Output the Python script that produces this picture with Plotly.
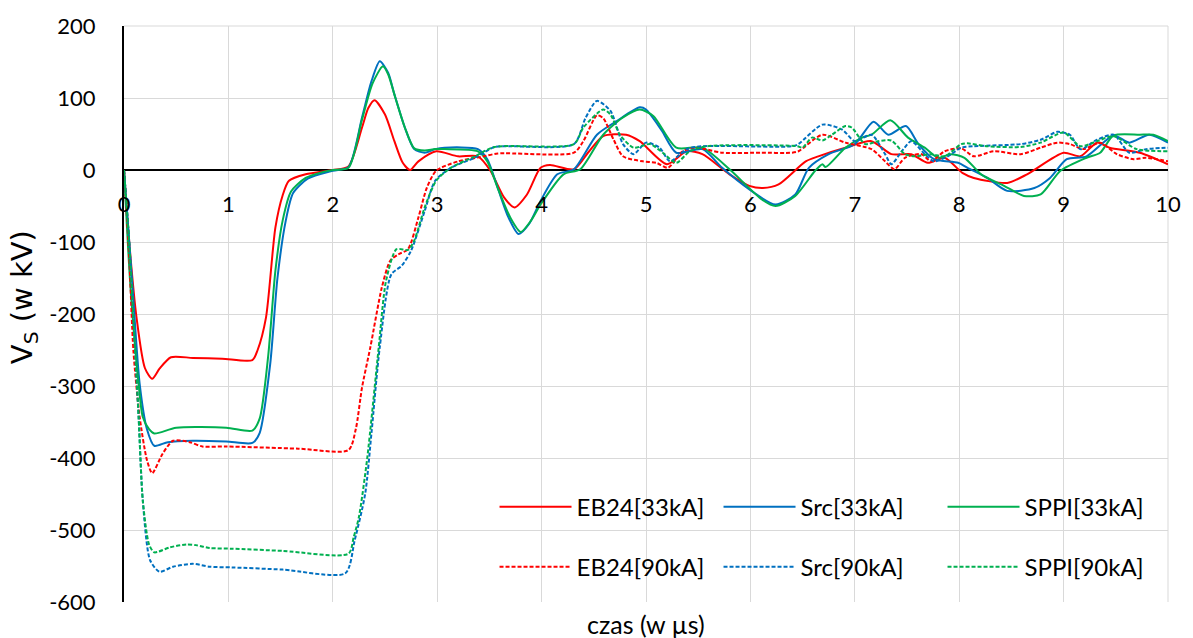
import plotly.graph_objects as go

# ---------------- data (time in µs, voltage in kV) ----------------
t_eb24_33 = [0, 0.057, 0.12, 0.2, 0.27, 0.34, 0.45, 0.66, 0.94, 1.23, 1.28, 1.36, 1.45, 1.52, 1.58, 1.74, 2.0, 2.15,
             2.28, 2.34, 2.40, 2.50, 2.59, 2.67, 2.74, 2.82, 2.99, 3.2, 3.39, 3.51, 3.64, 3.74, 3.86, 3.99, 4.08, 4.31,
             4.45, 4.59, 4.81, 4.94, 5.2, 5.39, 5.54, 5.80, 5.99, 6.12, 6.27, 6.53, 6.65, 6.91, 7.16, 7.35, 7.54, 7.70,
             7.86, 8.03, 8.14, 8.46, 8.65, 9.0, 9.16, 9.32, 9.44, 9.73, 10.0]
v_eb24_33 = [0, -112, -205, -275, -290, -276, -260, -261, -262, -264, -250, -205, -80, -35, -15, -6, 0, 5,
             59, 86, 97, 77, 40, 10, 0, 12, 26, 19, 19, -1, -38, -52, -34, 3, 7, 1,
             25, 47, 49, 40, 8, 26, 22, -6, -22, -25, -20, 12, 19, 31, 40, 22, 22, 10,
             17, -4, -11, -18, -6, 24, 19, 38, 31, 24, 8]

t_src_33 = [0, 0.08, 0.15, 0.22, 0.29, 0.42, 0.66, 0.98, 1.23, 1.30, 1.40, 1.47, 1.55, 1.62, 1.76, 2.0, 2.15, 2.28,
            2.37, 2.45, 2.53, 2.59, 2.69, 2.78, 2.88, 2.98, 3.07, 3.39, 3.48, 3.58, 3.68, 3.78, 3.88, 3.99, 4.15, 4.31,
            4.53, 4.72, 4.94, 5.0, 5.15, 5.29, 5.54, 5.73, 5.99, 6.24, 6.43, 6.56, 6.75, 7.0, 7.18, 7.32, 7.49, 7.61,
            7.76, 7.99, 8.08, 8.27, 8.46, 8.72, 8.87, 9.03, 9.22, 9.48, 9.63, 9.82, 10.0]
v_src_33 = [0, -160, -297, -360, -383, -378, -376, -377, -379, -365, -270, -150, -70, -32, -12, -1, 4, 73,
            123, 151, 135, 105, 59, 29, 24, 29, 31, 29, 15, -25, -65, -89, -75, -43, -6, 1,
            49, 68, 87, 84, 55, 24, 29, 3, -27, -48, -34, 3, 22, 36, 67, 49, 61, 36,
            15, 10, 3, -11, -29, -25, -11, 15, 19, 48, 38, 49, 38]

t_sppi_33 = [0, 0.06, 0.14, 0.18, 0.24, 0.29, 0.5, 0.98, 1.23, 1.30, 1.38, 1.45, 1.52, 1.60, 1.74, 1.9, 2.0, 2.15,
             2.28, 2.38, 2.48, 2.53, 2.60, 2.69, 2.78, 2.88, 2.98, 3.07, 3.39, 3.48, 3.58, 3.70, 3.80, 3.90, 3.99, 4.21,
             4.37, 4.59, 4.78, 4.94, 5.07, 5.29, 5.54, 5.80, 6.11, 6.24, 6.43, 6.62, 6.69, 6.72, 6.91, 7.07, 7.16, 7.34,
             7.51, 7.67, 7.80, 7.92, 8.05, 8.21, 8.43, 8.62, 8.78, 8.97, 9.22, 9.35, 9.48, 9.73, 9.86, 10.0]
v_sppi_33 = [0, -158, -297, -343, -360, -366, -358, -358, -362, -345, -260, -140, -70, -30, -11, -3, 0, 3,
             70, 120, 144, 133, 100, 59, 30, 27, 29, 29, 26, 12, -25, -66, -86, -70, -48, -6,
             1, 49, 73, 84, 75, 31, 31, 1, -41, -50, -36, -1, 8, 4, 31, 45, 49, 69,
             45, 31, 17, 22, 17, -6, -22, -36, -34, -1, 17, 24, 48, 49, 49, 40]

t_eb24_90 = [0, 0.05, 0.09, 0.15, 0.22, 0.27, 0.37, 0.47, 0.63, 0.75, 0.98, 1.67, 2.15, 2.22, 2.28, 2.36, 2.47, 2.55,
             2.63, 2.72, 2.82, 2.90, 2.99, 3.20, 3.45, 3.58, 4.31, 4.40, 4.53, 4.59, 4.69, 4.78, 4.97, 5.10, 5.21, 5.35,
             5.48, 5.73, 6.1, 6.40, 6.46, 6.69, 6.91, 7.16, 7.29, 7.38, 7.48, 7.64, 7.73, 7.86, 8.02, 8.14, 8.33, 8.59,
             8.78, 8.94, 9.06, 9.19, 9.35, 9.51, 9.67, 9.79, 10.0]
v_eb24_90 = [0, -120, -251, -343, -403, -421, -394, -376, -378, -384, -384, -387, -389, -360, -302, -246, -163, -126,
             -117, -110, -66, -25, -1, 12, 19, 23, 24, 40, 76, 72, 42, 19, 12, 10, 3, 26,
             31, 24, 24, 24, 26, 49, 38, 29, 12, 1, 17, 22, 12, 26, 30, 19, 26, 22,
             31, 38, 36, 29, 38, 22, 15, 17, 12]

t_src_90 = [0, 0.05, 0.09, 0.14, 0.18, 0.25, 0.34, 0.47, 0.66, 0.82, 1.04, 1.52, 2.12, 2.21, 2.31, 2.37, 2.45, 2.56,
            2.66, 2.75, 2.88, 2.98, 3.13, 3.36, 3.55, 3.70, 4.31, 4.42, 4.53, 4.66, 4.78, 4.88, 5.0, 5.13, 5.23, 5.39,
            5.54, 6.40, 6.46, 6.69, 6.88, 7.0, 7.16, 7.29, 7.35, 7.45, 7.54, 7.67, 7.76, 7.89, 8.02, 8.14, 8.59, 8.78,
            8.94, 9.06, 9.16, 9.32, 9.48, 9.63, 9.79, 10.0]
v_src_90 = [0, -100, -205, -343, -459, -542, -558, -551, -547, -551, -552, -555, -560, -514, -450, -366, -246, -145,
            -133, -112, -57, -15, 3, 17, 32, 33, 36, 72, 96, 82, 36, 22, 38, 31, 12, 29,
            33, 33, 36, 63, 56, 40, 49, 22, 8, 26, 40, 22, 12, 19, 31, 33, 36, 42,
            53, 49, 29, 42, 49, 24, 29, 31]

t_sppi_90 = [0, 0.05, 0.09, 0.14, 0.18, 0.24, 0.29, 0.44, 0.60, 0.69, 0.82, 1.04, 1.52, 2.15, 2.20, 2.25, 2.33, 2.44,
             2.51, 2.61, 2.72, 2.78, 2.88, 2.99, 3.13, 3.36, 3.55, 4.31, 4.40, 4.59, 4.66, 4.75, 4.88, 5.04, 5.16, 5.29,
             5.42, 5.58, 6.45, 6.50, 6.59, 6.69, 6.78, 6.91, 6.97, 7.10, 7.22, 7.35, 7.48, 7.57, 7.73, 7.86, 8.02, 8.08,
             8.27, 8.59, 8.78, 9.0, 9.16, 9.32, 9.48, 9.70, 10.0]
v_sppi_90 = [0, -100, -205, -343, -459, -520, -531, -524, -520, -521, -525, -526, -529, -533, -510, -482, -400, -246,
             -154, -110, -111, -98, -52, -15, 3, 19, 32, 36, 59, 84, 77, 49, 31, 36, 24, 10,
             26, 33, 33, 31, 45, 41, 49, 61, 59, 36, 40, 41, 22, 19, 22, 19, 36, 37,
             33, 32, 38, 52, 33, 40, 47, 29, 26]

series_names = ["EB24[33kA]", "Src[33kA]", "SPPI[33kA]", "EB24[90kA]", "Src[90kA]", "SPPI[90kA]"]
x_ticks = [0, 1, 2, 3, 4, 5, 6, 7, 8, 9, 10]
y_ticks = [-600, -500, -400, -300, -200, -100, 0, 100, 200]
x_title = "czas (w µs)"
y_title = "V<sub>S</sub> (w kV)"

# ---------------- styling ----------------
RED, BLUE, GREEN = "#FF0000", "#0070C0", "#00B050"
FONT = "Lato"
GRID = "#D9D9D9"
series = [
    (t_eb24_33, v_eb24_33, RED, "solid", "legend"),
    (t_src_33, v_src_33, BLUE, "solid", "legend"),
    (t_sppi_33, v_sppi_33, GREEN, "solid", "legend"),
    (t_eb24_90, v_eb24_90, RED, "4px,2px", "legend2"),
    (t_src_90, v_src_90, BLUE, "4px,2px", "legend2"),
    (t_sppi_90, v_sppi_90, GREEN, "4px,2px", "legend2"),
]

fig = go.Figure()
for name, (tx, vy, col, dash, lg) in zip(series_names, series):
    fig.add_trace(go.Scatter(
        x=tx, y=vy, mode="lines", name=name, legend=lg,
        line=dict(color=col, width=2, dash=dash, shape="spline", smoothing=0.7),
    ))

W, H = 1193, 638
L, R, T, B = 124, 18, 25, 36
pw = W - L - R
ph = H - T - B

legend_common = dict(
    orientation="h", xanchor="left", yanchor="middle",
    x=(497 - L) / pw, bgcolor="rgba(0,0,0,0)",
    font=dict(family=FONT, size=24, color="#000000"),
    entrywidth=137, entrywidthmode="pixels", itemwidth=72,
    traceorder="normal", borderwidth=0,
)

fig.update_layout(
    width=W, height=H,
    margin=dict(l=L, r=R, t=T, b=B),
    paper_bgcolor="white", plot_bgcolor="white",
    font=dict(family=FONT, size=22, color="#000000"),
    showlegend=True,
    legend=dict(legend_common, y=(602 - 507) / ph),
    legend2=dict(legend_common, y=(602 - 567) / ph),
    xaxis=dict(
        range=[0, 10], tickvals=x_ticks, ticktext=[str(v) for v in x_ticks],
        showgrid=True, gridcolor=GRID, gridwidth=1,
        zeroline=False, showline=False, ticks="",
        anchor="free", position=0.75, ticklabelstandoff=19,
        tickfont=dict(family=FONT, size=22, color="#000000"),
    ),
    yaxis=dict(
        range=[-600, 200], tickvals=y_ticks, ticktext=[str(v) for v in y_ticks],
        showgrid=True, gridcolor=GRID, gridwidth=1,
        zeroline=True, zerolinecolor="#000000", zerolinewidth=2,
        showline=True, linecolor="#000000", linewidth=2, ticks="",
        ticklabelstandoff=22,
        tickfont=dict(family=FONT, size=22, color="#000000"),
    ),
    shapes=[
        dict(type="line", xref="paper", yref="paper", x0=0, x1=1, y0=1, y1=1,
             line=dict(color=GRID, width=1), layer="below"),
        dict(type="line", xref="paper", yref="paper", x0=1, x1=1, y0=0, y1=1,
             line=dict(color=GRID, width=1), layer="below"),
    ],
    annotations=[
        dict(text=x_title, xref="paper", yref="paper", x=(650 - L) / pw, y=(602 - 624) / ph,
             xanchor="center", yanchor="middle", showarrow=False,
             font=dict(family=FONT, size=25, color="#000000")),
        dict(text=y_title, xref="paper", yref="paper", x=(23 - L) / pw, y=(602 - 297) / ph,
             xanchor="center", yanchor="middle", textangle=-90, showarrow=False,
             font=dict(family="DejaVu Sans", size=29, color="#000000")),
    ],
)

fig.write_html("out.html", config={"displayModeBar": False},
               post_script="document.body.style.margin='0px';")
